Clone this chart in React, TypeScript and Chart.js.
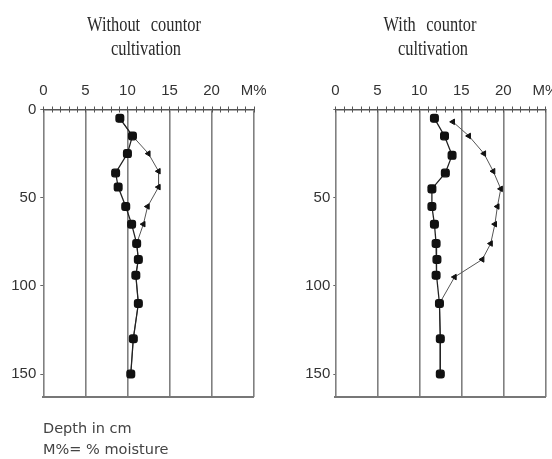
import React, { useEffect, useRef } from "react";
import { Chart, registerables } from "chart.js";

Chart.register(...registerables);

// ---- data ----
const moistureTickLabels = ["0", "5", "10", "15", "20", "M%"];
const depthTicks = [0, 50, 100, 150];

// Without contour cultivation
const leftDepthA = [5, 15, 25, 36, 44, 55, 65, 76, 85, 94, 110, 130, 150];
const leftMoistA = [9.1, 10.6, 10.0, 8.6, 8.9, 9.8, 10.5, 11.1, 11.3, 11.0, 11.3, 10.7, 10.4];
const leftDepthB = [5, 15, 25, 35, 44, 55, 65, 76, 85, 94, 110, 130, 150];
const leftMoistB = [9.1, 10.6, 12.5, 13.7, 13.7, 12.4, 11.9, 11.1, 11.3, 11.0, 11.3, 10.7, 10.4];

// With contour cultivation
const rightDepthA = [5, 15, 26, 36, 45, 55, 65, 76, 85, 94, 110, 130, 150];
const rightMoistA = [11.8, 13.0, 13.9, 13.1, 11.5, 11.5, 11.8, 12.0, 12.1, 12.0, 12.4, 12.5, 12.5];
const rightDepthB = [7, 15, 25, 35, 45, 55, 65, 76, 85, 95, 110, 130, 150];
const rightMoistB = [14.0, 15.9, 17.7, 18.8, 19.7, 19.3, 19.0, 18.5, 17.5, 14.2, 12.4, 12.5, 12.5];

const X_MAX = 25;
const Y_MAX = 163;

const topTicksPlugin = {
  id: "topTicks",
  afterDraw(chart: any) {
    const x = chart.scales.x;
    const area = chart.chartArea;
    const ctx = chart.ctx;
    ctx.save();
    ctx.strokeStyle = "#555";
    ctx.lineWidth = 1;
    for (let v = 0; v <= X_MAX; v++) {
      const px = Math.round(x.getPixelForValue(v)) + 0.5;
      ctx.beginPath();
      ctx.moveTo(px, area.top - 3);
      ctx.lineTo(px, area.top + 3);
      ctx.stroke();
    }
    ctx.restore();
  },
};

type PanelProps = {
  left: number;
  width: number;
  areaRight: number;
  yAxisWidth: number;
  showZero: boolean;
  yTickLen: number;
  yPad: number;
  depthA: number[];
  moistA: number[];
  depthB: number[];
  moistB: number[];
};

const HEIGHT = 420;
const AREA_TOP = 109.5;
const AREA_BOTTOM = 397;

function Panel(p: PanelProps) {
  const ref = useRef<HTMLCanvasElement | null>(null);
  useEffect(() => {
    if (!ref.current) return;
    const chart = new Chart(ref.current, {
      type: "scatter",
      data: {
        datasets: [
          {
            data: p.depthA.map((d, i) => ({ x: p.moistA[i], y: d })),
            showLine: true,
            borderColor: "#222",
            borderWidth: 1.3,
            pointStyle: "rectRounded",
            pointRadius: 4.5,
            pointBackgroundColor: "#111",
            pointBorderColor: "#111",
            order: 0,
          },
          {
            data: p.depthB.map((d, i) => ({ x: p.moistB[i], y: d })),
            showLine: true,
            borderColor: "#555",
            borderWidth: 1,
            pointStyle: "triangle",
            pointRotation: -90,
            pointRadius: 3.2,
            pointBackgroundColor: "#111",
            pointBorderColor: "#111",
            order: 1,
          },
        ],
      },
      options: {
        animation: false,
        responsive: false,
        maintainAspectRatio: false,
        layout: {
          padding: { left: 0, top: 0, right: p.width - p.areaRight, bottom: HEIGHT - AREA_BOTTOM },
        },
        plugins: { legend: { display: false }, tooltip: { enabled: false } },
        scales: {
          x: {
            type: "linear",
            position: "top",
            min: 0,
            max: X_MAX,
            afterBuildTicks: (s: any) => {
              s.ticks = moistureTickLabels.map((_, i) => ({ value: i * 5 }));
            },
            ticks: {
              autoSkip: false,
              maxRotation: 0,
              padding: 9.5,
              color: "#333",
              font: { family: "'Liberation Sans', Arial, sans-serif", size: 15 },
              callback: (v: any) => moistureTickLabels[Math.round(Number(v) / 5)] ?? "",
            },
            grid: { color: "#808080", lineWidth: 1.6, drawTicks: false },
            border: { display: true, color: "#555", width: 1.5 },
            afterFit: (s: any) => {
              s.height = AREA_TOP;
            },
          },
          x2: {
            type: "linear",
            position: "bottom",
            min: 0,
            max: X_MAX,
            grid: { display: false },
            ticks: { display: false },
            border: { display: true, color: "#777", width: 2 },
            afterFit: (s: any) => {
              s.height = 0;
            },
          },
          y: {
            type: "linear",
            reverse: true,
            min: 0,
            max: Y_MAX,
            afterBuildTicks: (s: any) => {
              s.ticks = depthTicks.map((v) => ({ value: v }));
            },
            ticks: {
              padding: p.yPad,
              color: "#333",
              font: { family: "'Liberation Sans', Arial, sans-serif", size: 15 },
              callback: (v: any) => (Number(v) === 0 && !p.showZero ? "" : String(v)),
            },
            grid: {
              display: true,
              drawOnChartArea: false,
              drawTicks: true,
              tickLength: p.yTickLen,
              tickColor: "#666",
              color: "rgba(0,0,0,0)",
            },
            border: { display: false },
            afterFit: (s: any) => {
              s.width = p.yAxisWidth;
            },
          },
        },
      } as any,
      plugins: [topTicksPlugin],
    });
    return () => chart.destroy();
  }, []);
  return (
    <canvas
      ref={ref}
      width={p.width}
      height={HEIGHT}
      style={{ position: "absolute", left: p.left, top: 0, width: p.width, height: HEIGHT }}
    />
  );
}

const titleStyle: React.CSSProperties = {
  position: "absolute",
  fontFamily: "'Liberation Serif', 'Times New Roman', serif",
  fontSize: 20,
  lineHeight: "24px",
  color: "#2a2a2a",
  whiteSpace: "nowrap",
  wordSpacing: 8,
  transform: "translateX(-50%) scaleX(0.82)",
  transformOrigin: "50% 0",
};

const noteStyle: React.CSSProperties = {
  position: "absolute",
  left: 43,
  fontFamily: "'DejaVu Sans', sans-serif",
  fontSize: 14.5,
  lineHeight: "18px",
  color: "#444",
  whiteSpace: "nowrap",
};

export default function App() {
  return (
    <div
      style={{
        position: "fixed",
        left: 0,
        top: 0,
        width: 552,
        height: 459,
        overflow: "hidden",
        background: "#fff",
      }}
    >
      <Panel
        left={0}
        width={276}
        areaRight={255}
        yAxisWidth={43.3}
        showZero={true}
        yTickLen={3}
        yPad={4}
        depthA={leftDepthA}
        moistA={leftMoistA}
        depthB={leftDepthB}
        moistB={leftMoistB}
      />
      <Panel
        left={276}
        width={300}
        areaRight={269.3}
        yAxisWidth={59.3}
        showZero={false}
        yTickLen={2}
        yPad={3}
        depthA={rightDepthA}
        moistA={rightMoistA}
        depthB={rightDepthB}
        moistB={rightMoistB}
      />
      <div style={{ ...titleStyle, left: 144, top: 12 }}>Without countor</div>
      <div style={{ ...titleStyle, left: 146, top: 36 }}>cultivation</div>
      <div style={{ ...titleStyle, left: 430, top: 12 }}>With countor</div>
      <div style={{ ...titleStyle, left: 433, top: 36 }}>cultivation</div>
      <div style={{ ...noteStyle, top: 419 }}>Depth in cm</div>
      <div style={{ ...noteStyle, top: 440 }}>M%= % moisture</div>
    </div>
  );
}
